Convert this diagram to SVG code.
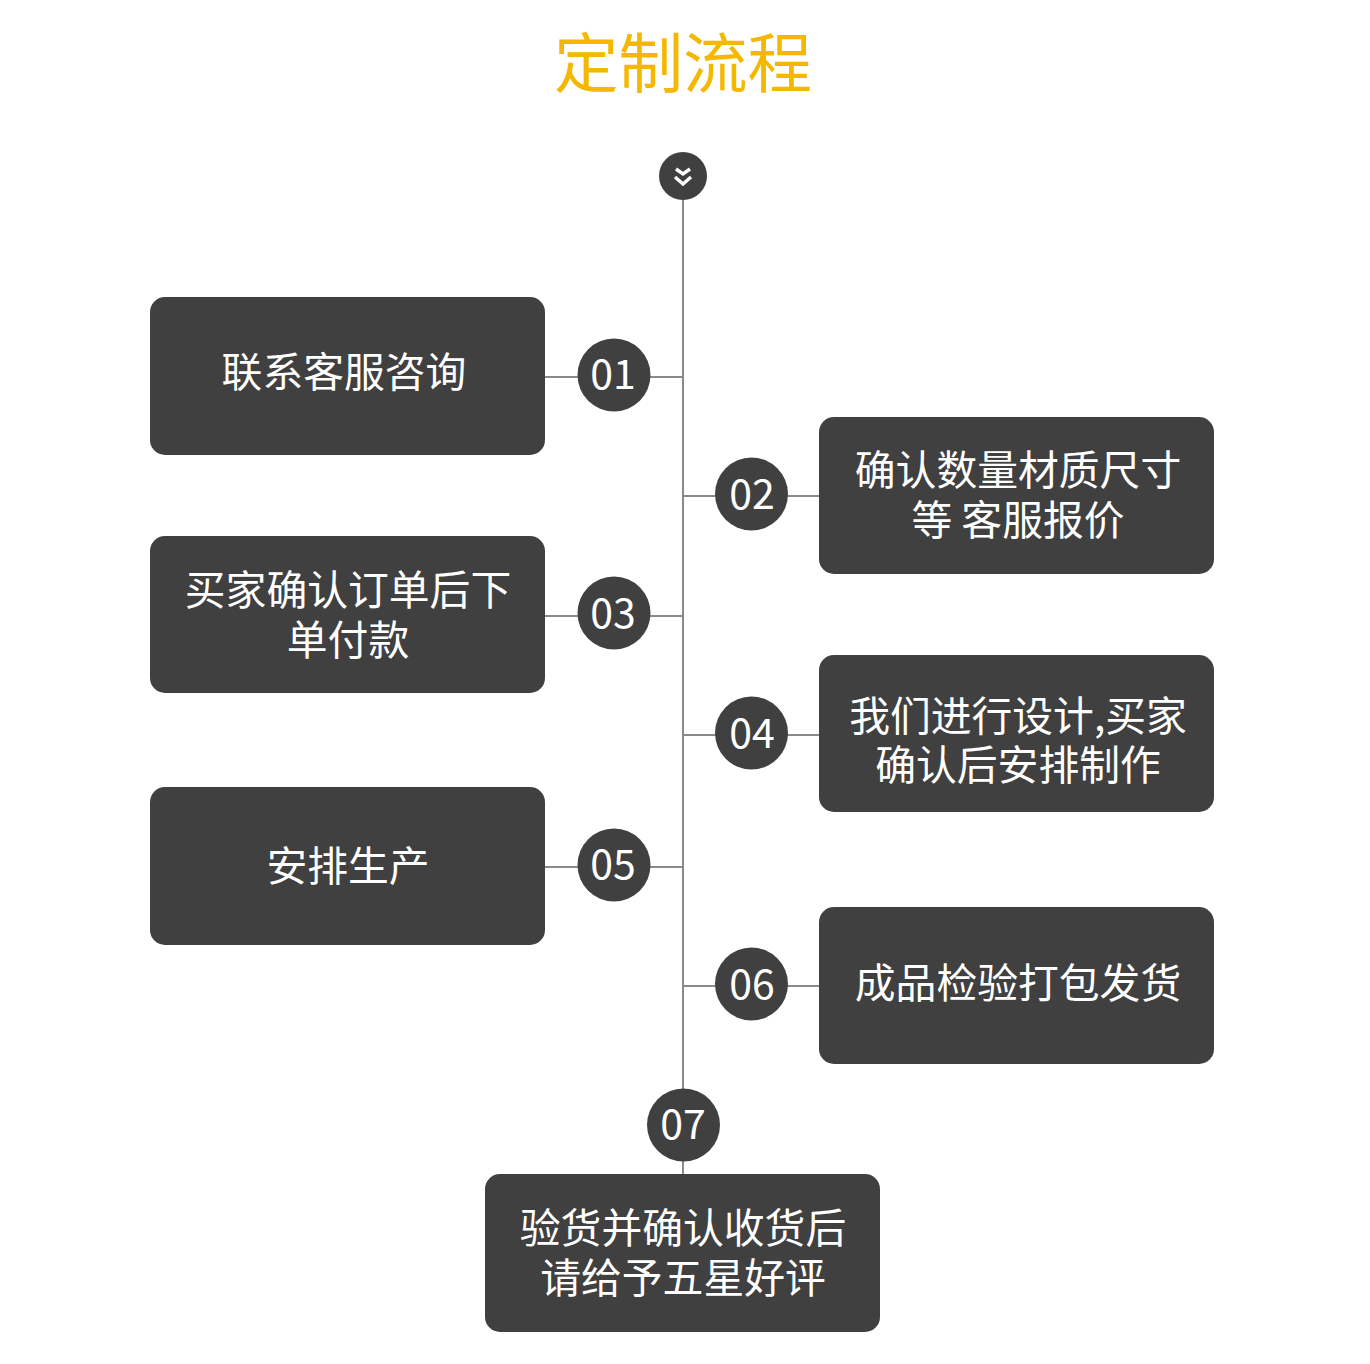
<svg xmlns="http://www.w3.org/2000/svg" width="1370" height="1364" viewBox="0 0 1370 1364">
<style>
text{font-family:"Noto Sans CJK SC","Noto Sans",sans-serif;text-anchor:middle}
.box{fill:#404040}
.dot{fill:#404040}
.t{fill:#fff;font-size:40.8px;font-weight:400}
.n{fill:#fff;font-size:41px}
.ln{stroke:#8a8a8a;stroke-width:2;fill:none}
</style>
<rect width="1370" height="1364" fill="#fff"/>
<text id="title" x="683" y="87" font-size="64.5" fill="#f5b800">定制流程</text>
<g id="connectors">
<path class="ln" d="M683 190V1176M545 377H683M683 496H819M545 616H683M683 735H819M545 867H683M683 986H819"/>
</g>
<g id="start"><circle class="dot" cx="683" cy="176" r="24"/><path d="M676 169l7 5 7-5M675 177l8 7 8-7" fill="none" stroke="#fff" stroke-width="3.4"/></g>
<g id="step1"><rect class="box" x="150" y="297" width="395" height="158" rx="15"/><text class="t" x="344" y="387">联系客服咨询</text><circle class="dot" cx="614" cy="375" r="36.5"/><text class="n" x="613" y="389">01</text></g>
<g id="step2"><rect class="box" x="819" y="417" width="395" height="157" rx="15"/><text class="t"><tspan x="1018" y="485">确认数量材质尺寸</tspan><tspan x="1018" y="535">等 客服报价</tspan></text><circle class="dot" cx="751.500" cy="494" r="36.5"/><text class="n" x="752" y="509">02</text></g>
<g id="step3"><rect class="box" x="150" y="536" width="395" height="157" rx="15"/><text class="t"><tspan x="348" y="605">买家确认订单后下</tspan><tspan x="348" y="655">单付款</tspan></text><circle class="dot" cx="614" cy="613" r="36.5"/><text class="n" x="613" y="628">03</text></g>
<g id="step4"><rect class="box" x="819" y="655" width="395" height="157" rx="15"/><text class="t"><tspan x="1018" y="731">我们进行设计,买家</tspan><tspan x="1018" y="780">确认后安排制作</tspan></text><circle class="dot" cx="751.500" cy="733" r="36.5"/><text class="n" x="752" y="748">04</text></g>
<g id="step5"><rect class="box" x="150" y="787" width="395" height="158" rx="15"/><text class="t" x="348" y="881">安排生产</text><circle class="dot" cx="614" cy="865" r="36.5"/><text class="n" x="613" y="879">05</text></g>
<g id="step6"><rect class="box" x="819" y="907" width="395" height="157" rx="15"/><text class="t" x="1018" y="998">成品检验打包发货</text><circle class="dot" cx="751.500" cy="984" r="36.5"/><text class="n" x="752" y="999">06</text></g>
<g id="step7"><circle class="dot" cx="683.500" cy="1125" r="36.5"/><text class="n" x="683" y="1139">07</text><rect class="box" x="485" y="1174" width="395" height="158" rx="15"/><text class="t"><tspan x="683" y="1243">验货并确认收货后</tspan><tspan x="683" y="1293">请给予五星好评</tspan></text></g>
</svg>
